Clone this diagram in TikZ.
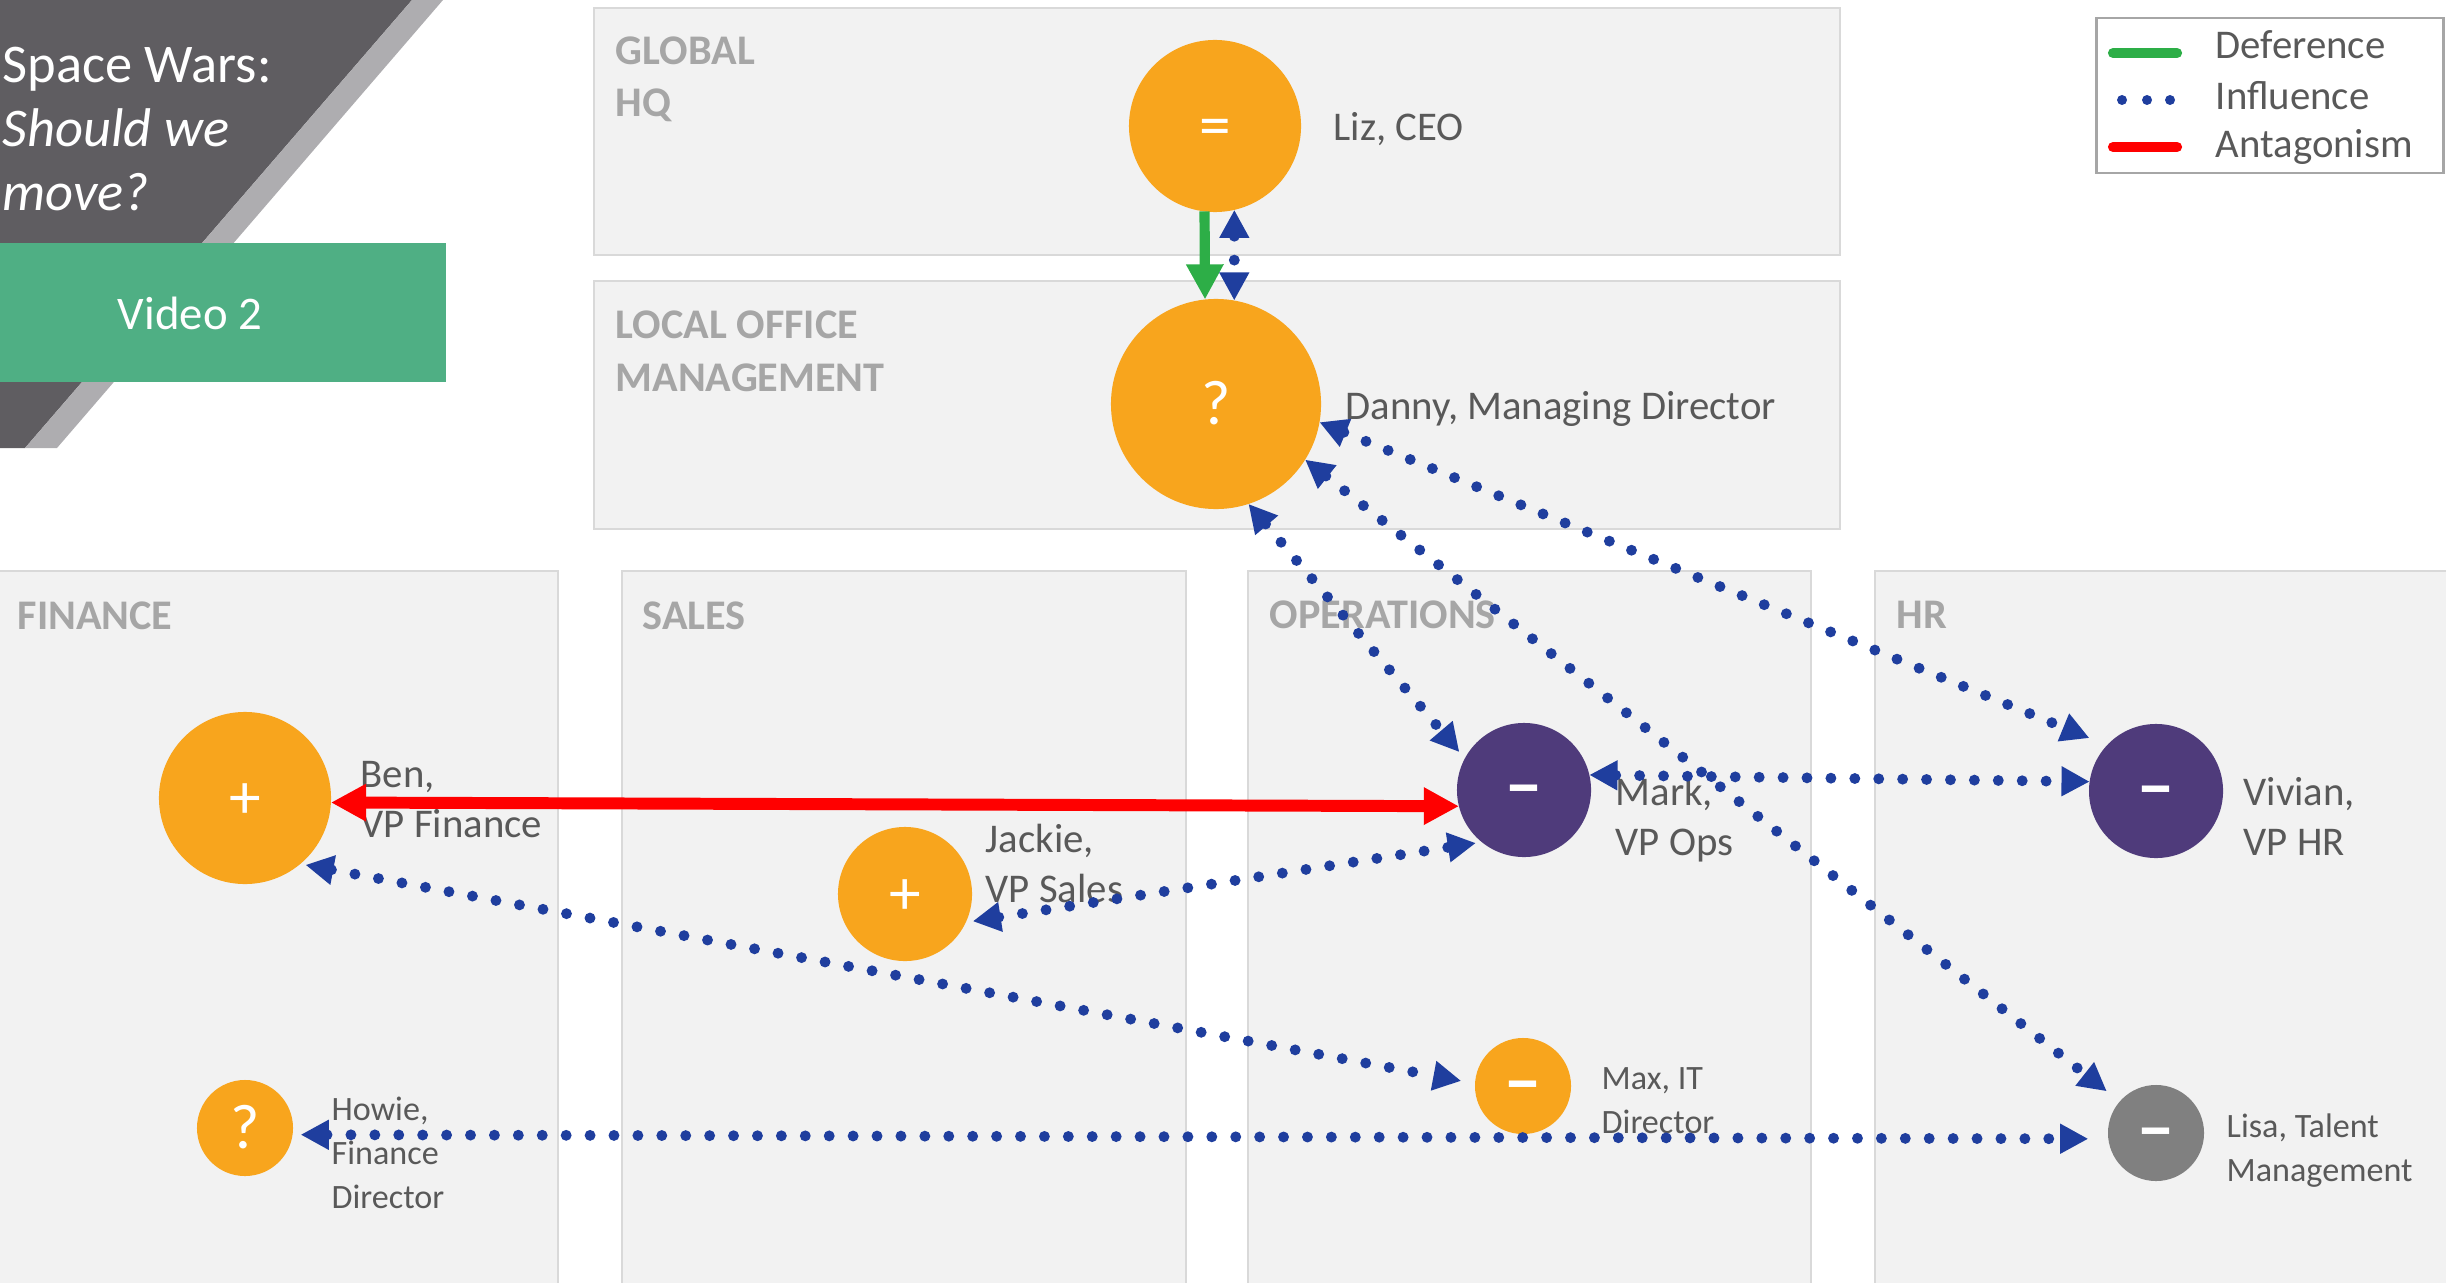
\documentclass[tikz,border=0pt]{standalone}
\usepackage{fontspec}
\setmainfont{Carlito}
\usetikzlibrary{arrows.meta}

\definecolor{panelgrey}{HTML}{F2F2F2}
\definecolor{panelline}{HTML}{D9D9D9}
\definecolor{headgrey}{HTML}{A6A6A6}
\definecolor{textgrey}{HTML}{595959}
\definecolor{slate}{HTML}{5F5D61}
\definecolor{stripe}{HTML}{AEADB0}
\definecolor{videogreen}{HTML}{4FAF84}
\definecolor{amber}{HTML}{F8A51D}
\definecolor{plum}{HTML}{4F3B7B}
\definecolor{ash}{HTML}{808080}
\definecolor{inkblue}{HTML}{1F3E9E}
\definecolor{defgreen}{HTML}{2DAE47}

\tikzset{
  panel/.style={fill=panelgrey, draw=panelline, line width=0.6pt},
  panelhead/.style={anchor=base west, inner sep=0pt, align=left, text=headgrey,
    font=\bfseries\fontsize{12}{14.8}\selectfont},
  person/.style={circle, inner sep=0pt, outer sep=0pt, text=white,
    text height=11.7pt, text depth=0pt, font=\fontsize{18}{18}\selectfont},
  against/.style={person, font=\bfseries\fontsize{20}{20}\selectfont},
  rolelabel/.style={anchor=base west, inner sep=0pt, align=left, text=textgrey,
    font=\fontsize{11.6}{14.2}\selectfont},
  smallrole/.style={rolelabel, font=\fontsize{9.7}{12.5}\selectfont},
  influence/.style={inkblue, line width=3.1pt, line cap=round, dash pattern=on 0pt off 6.8pt,
    {Triangle[length=8pt,width=8pt]}-{Triangle[length=8pt,width=8pt]}},
  antagonism/.style={red, line width=3.4pt,
    {Triangle[length=10pt,width=10pt]}-{Triangle[length=10pt,width=10pt]}},
  deference/.style={defgreen, line width=2.9pt, -{Triangle[length=10pt,width=10pt]}},
}

\begin{document}
\begin{tikzpicture}[x=0.01cm, y=-0.01cm]
    \useasboundingbox (0,0) rectangle (2446,1282);

    % Draw panels
    \draw[panel] (594,8) rectangle (1840,255);
    \draw[panel] (594,281) rectangle (1840,529);
    \draw[panel] (-5,571) rectangle (558,1290);
    \draw[panel] (622,571) rectangle (1186,1290);
    \draw[panel] (1248,571) rectangle (1811,1290);
    \draw[panel] (1875,571) rectangle (2450,1290);

    % base of a multi-line node is its last line
    \node[panelhead] (hq) at (615,117) {GLOBAL\\HQ};
    \node[panelhead] (office) at (615,391) {LOCAL OFFICE\\MANAGEMENT};
    \node[panelhead] (finance) at (17,629) {FINANCE};
    \node[panelhead] (sales) at (642,629) {SALES};
    \node[panelhead] (ops) at (1269,628) {OPERATIONS};
    \node[panelhead] (hr) at (1896,628) {HR};

    % Draw title block
    \fill[slate] (-5,0) -- (412,0) -- (25,448) -- (-5,448) -- cycle;
    \fill[stripe] (412,0) -- (443,0) -- (57,448) -- (25,448) -- cycle;
    \fill[videogreen] (-5,243) rectangle (446,382);
    \node[anchor=base west, inner sep=0pt, align=left, text=white,
      font=\fontsize{15.5}{18.2}\selectfont] (title) at (2,211)
      {Space Wars:\\\textit{Should we}\\\textit{move?}};
    \node[text=white, font=\fontsize{13.3}{16}\selectfont] (video) at (190,313) {Video 2};

    % Draw legend
    \draw[headgrey, line width=0.85pt] (2096,18) rectangle (2443,173);
    \draw[defgreen, line width=2.9pt, line cap=round] (2113,53) -- (2177,53);
    \foreach \x in {2122,2147,2170}
      \fill[inkblue] (\x,100) circle (5);
    \draw[red, line width=2.9pt, line cap=round] (2113,147) -- (2177,147);
    \node[rolelabel] (deftxt) at (2215,59) {Deference};
    \node[rolelabel] (inftxt) at (2215,110) {Influence};
    \node[rolelabel] (anttxt) at (2215,158) {Antagonism};

    % Draw people
    \node[person, fill=amber, minimum size=1.72cm] (liz) at (1215,126) {=};
    \node[person, fill=amber, minimum size=2.10cm] (danny) at (1216,404) {?};
    \node[person, fill=amber, minimum size=1.72cm] (ben) at (245,798) {+};
    \node[person, fill=amber, minimum size=1.34cm] (jackie) at (905,894) {+};
    \node[against, fill=plum, minimum size=1.34cm] (mark) at (1524,790) {−};
    \node[against, fill=plum, minimum size=1.34cm] (vivian) at (2156,791) {−};
    \node[against, fill=amber, minimum size=0.96cm] (max) at (1523,1086) {−};
    \node[person, fill=amber, minimum size=0.96cm] (howie) at (245,1128) {?};
    \node[against, fill=ash, minimum size=0.96cm] (lisa) at (2156,1133) {−};

    \node[rolelabel] (liztxt) at (1333,140) {Liz, CEO};
    \node[rolelabel] (dannytxt) at (1345,419) {Danny, Managing Director};
    \node[rolelabel] (bentxt) at (360,837) {Ben,\\VP Finance};
    \node[rolelabel] (jackietxt) at (985,902) {Jackie,\\VP Sales};
    \node[rolelabel] (marktxt) at (1615,855) {Mark,\\VP Ops};
    \node[rolelabel] (viviantxt) at (2243,855) {Vivian,\\VP HR};
    \node[smallrole] (maxtxt) at (1601,1133) {Max, IT\\Director};
    \node[smallrole] (howietxt) at (331,1208) {Howie,\\Finance\\Director};
    \node[smallrole] (lisatxt) at (2226,1181) {Lisa, Talent\\Management};

    % Draw relations
    \draw[deference] (liz.-97) -- (danny.96);
    \draw[influence] (liz.-77) -- (danny.80);
    \draw[influence, shorten >=2.4pt] (danny.-72) -- (mark.152);
    \draw[influence, shorten >=4.7pt] (danny.-32) -- (lisa.139);
    \draw[influence, shorten >=5.4pt] (danny.-10) -- (vivian.137);
    \draw[influence] (mark.13) -- (vivian.172);
    \draw[influence, shorten <=2pt, shorten >=1.7pt] (jackie.-25) -- (mark.231);
    \draw[influence, shorten <=1.5pt, shorten >=4pt] (ben.-50) -- (max.177);
    \draw[influence, shorten <=2.3pt, shorten >=5.7pt] (howie.-8) -- (lisa.-173);
    \draw[antagonism] (ben.-3) -- (mark.194);
\end{tikzpicture}
\end{document}
